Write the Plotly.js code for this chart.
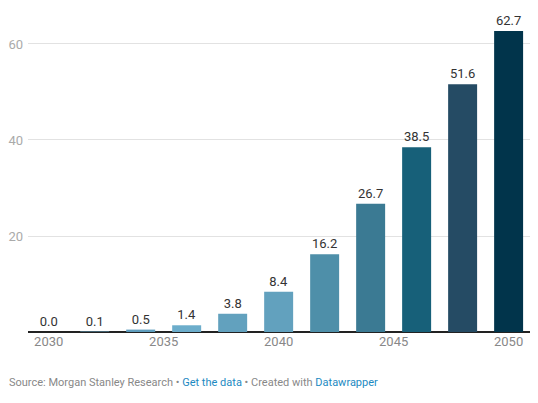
<!DOCTYPE html>
<html>
<head>
<meta charset="utf-8">
<script src="https://cdn.plot.ly/plotly-3.0.1.min.js"></script>
<style>
  html, body { margin: 0; padding: 0; background: #fff; }
  #chart { width: 538px; height: 403px; }
</style>
</head>
<body>
<div id="chart"></div>
<script>
// data
var years  = [2030, 2032, 2034, 2036, 2038, 2040, 2042, 2044, 2046, 2048, 2050];
var values = [0.0, 0.1, 0.5, 1.4, 3.8, 8.4, 16.2, 26.7, 38.5, 51.6, 62.7];
var xTicks = [2030, 2035, 2040, 2045, 2050];
var yTicks = [20, 40, 60];

var barColors = ['#6aaac8', '#68a8c6', '#5f9dbd', '#6cadcb', '#62a1be', '#62a1be',
                 '#4e8fa9', '#3b7a93', '#176079', '#254b64', '#01344b'];

var trace = {
    x: years, y: values, type: 'bar',
    marker: {color: barColors, line: {width: 0}},
    texttemplate: '%{y:.1f}', textposition: 'outside', cliponaxis: false,
    textfont: {family: 'Roboto', size: 13, color: '#333'},
    hoverinfo: 'none'
};

var layout = {
    width: 538, height: 403,
    margin: {l: 28, r: 8, t: 10, b: 71},
    paper_bgcolor: '#fff', plot_bgcolor: '#fff',
    showlegend: false, bargap: 0.37,
    font: {family: 'Roboto', color: '#888'},
    xaxis: {
        range: [2029.1, 2050.93], tickvals: xTicks, ticks: '',
        showgrid: false, zeroline: false, showline: false,
        tickfont: {size: 13, color: '#888'}
    },
    yaxis: {
        range: [0, 67.08], tickvals: yTicks, ticks: '',
        showgrid: true, gridcolor: '#e2e2e2', gridwidth: 1,
        zeroline: true, zerolinecolor: '#222', zerolinewidth: 1.5,
        tickfont: {size: 13, color: '#aaa'}, ticklabelstandoff: 4
    },
    annotations: [{
        xref: 'paper', yref: 'paper', x: -0.042, y: -0.158, xanchor: 'left', yanchor: 'middle',
        showarrow: false, align: 'left',
        font: {family: 'Roboto', size: 11, color: '#888'},
        text: 'Source: Morgan Stanley Research • <span style="color:#1d8ac2">Get the data</span> • Created with <span style="color:#1d8ac2">Datawrapper</span>'
    }]
};

Plotly.newPlot('chart', [trace], layout, {displayModeBar: false, staticPlot: true});
</script>
</body>
</html>
